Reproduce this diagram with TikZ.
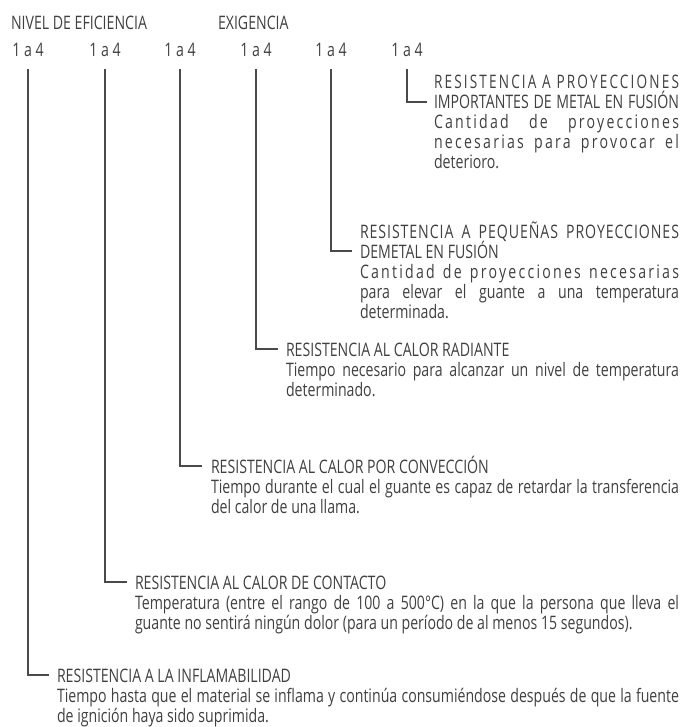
\documentclass[tikz,border=0pt]{standalone}
\usepackage{fontspec}
\usepackage{graphicx}
\setmainfont[FakeStretch=0.76]{Open Sans}
\newfontfamily\lsfont[FakeStretch=0.76,LetterSpace=12]{Open Sans}
\newfontfamily\lsfontb[FakeStretch=0.76,LetterSpace=5]{Open Sans}
\definecolor{txt}{HTML}{404040}
\definecolor{linec}{HTML}{4A4A4A}
\newsavebox\fitbox
\newcommand\fitline[2]{\sbox\fitbox{#2}\ifdim\wd\fitbox>#1\relax\resizebox{#1}{\height}{\usebox\fitbox}\else\makebox[#1][s]{#2}\fi}
\begin{document}
\begin{tikzpicture}[x=1pt,y=-1pt,
  every node/.style={inner sep=0pt,outer sep=0pt,text=txt,font=\fontsize{18.6}{20}\selectfont},
  lbl/.style={anchor=base west},
  num/.style={anchor=base},
  conn/.style={draw=linec,line width=1.1pt}]
\useasboundingbox (0,0) rectangle (683,727);
% header
\node[lbl] (hdA) at (11,30) {NIVEL DE EFICIENCIA};
\node[lbl] (hdB) at (218,30) {EXIGENCIA};
% numbers
\node[num] (a1) at (28,57) {1 a 4};
\node[num] (a2) at (105,57) {1 a 4};
\node[num] (a3) at (180,57) {1 a 4};
\node[num] (a4) at (256,57) {1 a 4};
\node[num] (a5) at (331,57) {1 a 4};
\node[num] (a6) at (407,57) {1 a 4};
% block 6
\node[lbl] (t6) at (434,89) {\fitline{245pt}{\lsfont RESISTENCIA A PROYECCIONES}};
\node[lbl] (t6b) at (434,109) {\fitline{245pt}{IMPORTANTES DE METAL EN FUSIÓN}};
\node[lbl] (d6a) at (434,129) {\fitline{245pt}{\lsfont Cantidad de proyecciones}};
\node[lbl] (d6b) at (434,149) {\fitline{245pt}{\lsfont necesarias para provocar el}};
\node[lbl] (d6c) at (434,169) {deterioro.};
% block 5
\node[lbl] (t5) at (360,238) {\fitline{319pt}{\lsfontb RESISTENCIA A PEQUEÑAS PROYECCIONES}};
\node[lbl] (t5b) at (360,258) {DEMETAL EN FUSIÓN};
\node[lbl] (d5a) at (360,278) {\fitline{319pt}{\lsfont Cantidad de proyecciones necesarias}};
\node[lbl] (d5b) at (360,298) {\fitline{319pt}{para elevar el guante a una temperatura}};
\node[lbl] (d5c) at (360,318) {determinada.};
% block 4
\node[lbl] (t4) at (286,356) {RESISTENCIA AL CALOR RADIANTE};
\node[lbl] (d4a) at (286,376) {\fitline{393pt}{Tiempo necesario para alcanzar un nivel de temperatura}};
\node[lbl] (d4b) at (286,396) {determinado.};
% block 3
\node[lbl] (t3) at (211,473) {RESISTENCIA AL CALOR POR CONVECCIÓN};
\node[lbl] (d3a) at (211,493) {\fitline{468pt}{Tiempo durante el cual el guante es capaz de retardar la transferencia}};
\node[lbl] (d3b) at (211,513) {del calor de una llama.};
% block 2
\node[lbl] (t2) at (135,589) {RESISTENCIA AL CALOR DE CONTACTO};
\node[lbl] (d2a) at (135,609) {\fitline{544pt}{Temperatura (entre el rango de 100 a 500°C) en la que la persona que lleva el}};
\node[lbl] (d2b) at (135,629) {guante no sentirá ningún dolor (para un período de al menos 15 segundos).};
% block 1
\node[lbl] (t1) at (57,682) {RESISTENCIA A LA INFLAMABILIDAD};
\node[lbl] (d1a) at (57,702) {\fitline{622pt}{Tiempo hasta que el material se inflama y continúa consumiéndose después de que la fuente}};
\node[lbl] (d1b) at (57,722) {de ignición haya sido suprimida.};
% connector ends
\coordinate (e6) at (427,102);
\coordinate (e5) at (352,251);
\coordinate (e4) at (278,349);
\coordinate (e3) at (202,466);
\coordinate (e2) at (127,582);
\coordinate (e1) at (49,675);
\draw[conn] (a1.base) ++(0,12) |- (e1);
\draw[conn] (a2.base) ++(0,12) |- (e2);
\draw[conn] (a3.base) ++(0,12) |- (e3);
\draw[conn] (a4.base) ++(0,12) |- (e4);
\draw[conn] (a5.base) ++(0,12) |- (e5);
\draw[conn] (a6.base) ++(0,12) |- (e6);
\end{tikzpicture}
\end{document}
